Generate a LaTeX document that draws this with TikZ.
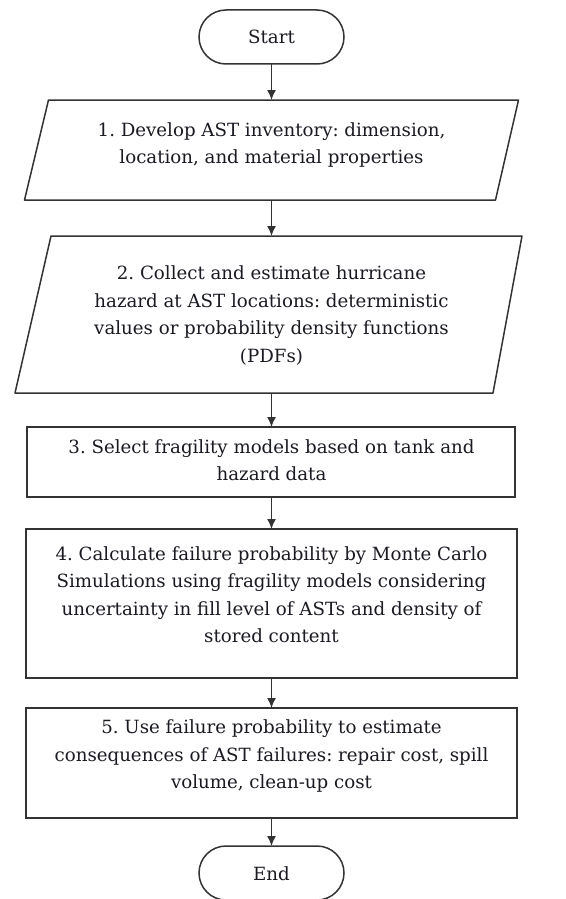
\documentclass[tikz,border=0pt]{standalone}
\usepackage{fontspec}
\setmainfont{DejaVu Serif}
\usetikzlibrary{arrows.meta}
\definecolor{linec}{HTML}{333333}
\definecolor{textc}{HTML}{1A1A22}
\frenchspacing
\begin{document}
\begin{tikzpicture}[x=1pt,y=1pt,
  box/.style={draw=linec, line width=1.5pt, minimum width=#1, inner sep=0pt, outer sep=0pt},
  term/.style={draw=linec, line width=1.5pt, rounded corners=27pt, minimum width=145pt, minimum height=54pt, inner sep=0pt, outer sep=0pt},
  frame/.style={minimum width=#1, inner sep=0pt, outer sep=0pt},
  para/.style={draw=linec, line width=1.5pt, line join=round},
  txt/.style={text=textc, align=center, font=\fontsize{18.2}{27.5}\selectfont, inner sep=0pt},
  arr/.style={draw=linec, line width=1.5pt, -{Latex[length=10pt,width=9pt]}}
]
\useasboundingbox (0,0) rectangle (565,-899);
\fill[white] (0,0) rectangle (565,-899);

% Start / End
\node[term] (start) at (271.5,-37) {};
\node[txt] (tstart) at (271.5,-37) {Start};
\node[term] (end) at (271.5,-873) {};
\node[txt] (tend) at (271.5,-874) {End};

% Parallelogram 1
\node[frame=494pt, minimum height=100pt] (p1) at (271.5,-150) {};
\draw[para] (p1.south west) -- ([xshift=24pt]p1.north west) -- (p1.north east) -- ([xshift=-23pt]p1.south east) -- cycle;
\node[txt] (t1) at (271.5,-145) {1. Develop AST inventory: dimension,\\location, and material properties};

% Parallelogram 2
\node[frame=507pt, minimum height=157pt] (p2) at (268.5,-314.5) {};
\draw[para] (p2.south west) -- ([xshift=36pt]p2.north west) -- (p2.north east) -- ([xshift=-29pt]p2.south east) -- cycle;
\node[txt] (t2) at (271.5,-315.5) {2. Collect and estimate hurricane\\hazard at AST locations: deterministic\\values or probability density functions\\(PDFs)};

% Box 3
\node[box=488pt, minimum height=70pt] (b3) at (271,-462) {};
\node[txt] (t3) at (271.5,-460) {3. Select fragility models based on tank and\\hazard data};

% Box 4
\node[box=491pt, minimum height=149pt] (b4) at (271.5,-603.5) {};
\node[txt] (t4) at (271.5,-594.5) {4. Calculate failure probability by Monte Carlo\\Simulations using fragility models considering\\uncertainty in fill level of ASTs and density of\\stored content};

% Box 5
\node[box=491pt, minimum height=110pt] (b5) at (271.5,-763) {};
\node[txt] (t5) at (271.5,-756) {5. Use failure probability to estimate\\consequences of AST failures: repair cost, spill\\volume, clean-up cost};

% Connectors
\draw[arr] (start.south) -- (start.south |- p1.north);
\draw[arr] (start.south |- p1.south) -- (start.south |- p2.north);
\draw[arr] (start.south |- p2.south) -- (start.south |- b3.north);
\draw[arr] (start.south |- b3.south) -- (start.south |- b4.north);
\draw[arr] (b4.south) -- (b5.north);
\draw[arr] (b5.south) -- (end.north);
\end{tikzpicture}
\end{document}
